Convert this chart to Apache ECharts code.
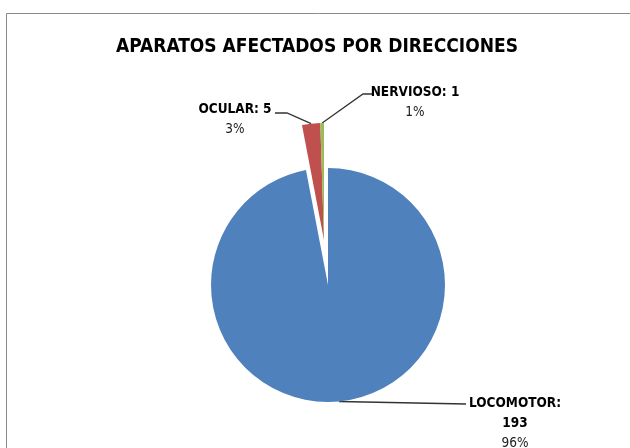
<!DOCTYPE html>
<html><head><meta charset="utf-8">
<script src="https://cdn.jsdelivr.net/npm/echarts@6/dist/echarts.min.js"></script>
<style>html,body{margin:0;padding:0;background:#fff}#c{width:630px;height:448px}</style>
</head><body><div id="c"></div>
<script>
// ---- data ----
const categories = ['LOCOMOTOR', 'OCULAR', 'NERVIOSO'];
const values = [193, 5, 1];
const percentLabels = ['96%', '3%', '1%'];
const titleText = 'APARATOS AFECTADOS POR DIRECCIONES';

// ---- style / layout ----
const colors = ['#4F81BD', '#C0504D', '#9BBB59'];
const exploded = [false, true, true];
const FONT = '"Liberation Sans Narrow", "Arial Narrow", "DejaVu Sans Condensed", sans-serif';
const labelPos = [
  {x: 515, y: 393, line: [[466, 404]]},
  {x: 235, y: 99, line: [[287, 113], [275, 113]]},
  {x: 415, y: 82, line: [[363, 94], [372, 94]]}
];

function makeSeries(isExploded, center) {
  return {
    type: 'pie',
    center: center,
    radius: 117,
    startAngle: 90,
    clockwise: true,
    silent: true,
    animation: false,
    emphasis: {disabled: true},
    data: categories.map((name, i) => {
      const visible = exploded[i] === isExploded;
      return {
        name: name,
        value: values[i],
        itemStyle: {color: visible ? colors[i] : 'rgba(0,0,0,0)', borderWidth: 0},
        label: {show: visible},
        labelLine: {show: visible}
      };
    }),
    label: {
      formatter: p => '{b|' + p.name + ':' + (p.dataIndex === 0 ? '\n' : ' ') + p.value + '}\n{p|' + percentLabels[p.dataIndex] + '}',
      rich: {
        b: {fontFamily: FONT, fontWeight: 'bold', fontSize: 13.5, lineHeight: 20, color: '#000', align: 'center'},
        p: {fontFamily: FONT, fontSize: 13.5, lineHeight: 20, color: '#222', align: 'center'}
      }
    },
    labelLine: {show: true, lineStyle: {color: '#333', width: 1.3}},
    labelLayout: params => {
      const lp = labelPos[params.dataIndex];
      const pts = params.labelLinePoints;
      const res = {x: lp.x, y: lp.y, align: 'center', verticalAlign: 'top'};
      if (pts && pts.length) res.labelLinePoints = [pts[0]].concat(lp.line);
      return res;
    }
  };
}

const chart = echarts.init(document.getElementById('c'), null, {renderer: 'canvas'});
chart.setOption({
  animation: false,
  backgroundColor: '#fff',
  title: {
    text: titleText,
    left: 111,
    top: 33,
    textStyle: {fontFamily: FONT, fontWeight: 'bold', fontSize: 19, color: '#000'}
  },
  graphic: [{
    type: 'rect',
    shape: {x: 6.5, y: 13.5, width: 700, height: 500},
    style: {fill: 'none', stroke: '#8a8a8a', lineWidth: 1},
    silent: true,
    z: -1
  }],
  series: [
    makeSeries(false, [328, 285]),
    makeSeries(true, [324, 240])
  ]
});
</script>
</body></html>
